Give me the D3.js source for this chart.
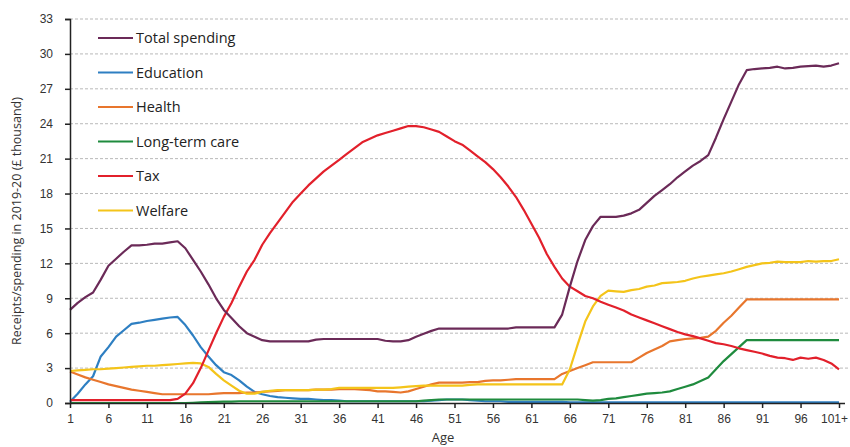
<!DOCTYPE html>
<html>
<head>
<meta charset="utf-8">
<script src="https://cdn.jsdelivr.net/npm/d3@7"></script>
<style>
  body { margin: 0; background: #fff; }
  svg { display: block; font-family: "Open Sans", sans-serif; }
  .grid line { stroke: #b9b9b9; stroke-dasharray: 3,2; }
  .axis path, .axis line { stroke: #222; }
  .axis text { fill: #333; font-size: 12px; }
</style>
</head>
<body>
<svg width="850" height="447"></svg>
<script>
// Ages 1..101 (101 = "101+")
const ages = d3.range(1, 102);
const xTicks = [1, 6, 11, 16, 21, 26, 31, 36, 41, 46, 51, 56, 61, 66, 71, 76, 81, 86, 91, 96, 101];
const yTicks = [0, 3, 6, 9, 12, 15, 18, 21, 24, 27, 30, 33];

const totalSpending = [
  8.0, 8.6, 9.1, 9.5, 10.6, 11.8, 12.4, 13.0, 13.55, 13.55,
  13.6, 13.7, 13.7, 13.8, 13.9, 13.3, 12.3, 11.3, 10.2, 9.0,
  8.0, 7.3, 6.6, 6.0, 5.7, 5.4, 5.3, 5.3, 5.3, 5.3,
  5.3, 5.3, 5.45, 5.5, 5.5, 5.5, 5.5, 5.5, 5.5, 5.5,
  5.5, 5.35, 5.3, 5.3, 5.4, 5.7, 5.95, 6.2, 6.4, 6.4,
  6.4, 6.4, 6.4, 6.4, 6.4, 6.4, 6.4, 6.4, 6.5, 6.5,
  6.5, 6.5, 6.5, 6.5, 7.6, 10.0, 12.2, 14.0, 15.2, 16.0,
  16.0, 16.0, 16.1, 16.3, 16.6, 17.2, 17.8, 18.3, 18.8, 19.4,
  19.9, 20.4, 20.8, 21.3, 22.8, 24.4, 25.9, 27.4, 28.6, 28.7,
  28.75, 28.8, 28.9, 28.75, 28.8, 28.9, 28.95, 29.0, 28.9, 29.0,
  29.2
];

const education = [
  0.1, 0.8, 1.6, 2.3, 4.0, 4.8, 5.7, 6.25, 6.8, 6.9,
  7.05, 7.15, 7.25, 7.35, 7.4, 6.7, 5.8, 4.8, 4.0, 3.25,
  2.65, 2.4, 1.95, 1.4, 0.95, 0.75, 0.6, 0.5, 0.45, 0.4,
  0.35, 0.35, 0.3, 0.25, 0.25, 0.2, 0.15, 0.15, 0.15, 0.15,
  0.15, 0.15, 0.15, 0.15, 0.15, 0.15, 0.15, 0.2, 0.25, 0.3,
  0.3, 0.3, 0.25, 0.2, 0.15, 0.15, 0.15, 0.1, 0.1, 0.1,
  0.1, 0.1, 0.1, 0.1, 0.1, 0.05, 0.05, 0.05, 0.05, 0.05,
  0.05, 0.05, 0.05, 0.05, 0.05, 0.05, 0.05, 0.05, 0.05, 0.05,
  0.05, 0.05, 0.05, 0.05, 0.05, 0.05, 0.05, 0.05, 0.05, 0.05,
  0.05, 0.05, 0.05, 0.05, 0.05, 0.05, 0.05, 0.05, 0.05, 0.05,
  0.05
];

const health = [
  2.7, 2.45, 2.2, 2.0, 1.8, 1.6, 1.45, 1.3, 1.15, 1.05,
  0.95, 0.85, 0.75, 0.75, 0.75, 0.75, 0.75, 0.75, 0.75, 0.8,
  0.85, 0.85, 0.85, 0.9, 0.9, 0.95, 1.0, 1.05, 1.1, 1.1,
  1.1, 1.1, 1.15, 1.15, 1.15, 1.2, 1.2, 1.2, 1.15, 1.1,
  1.0, 1.0, 0.95, 0.9, 1.0, 1.2, 1.4, 1.6, 1.75, 1.75,
  1.75, 1.75, 1.8, 1.8, 1.9, 1.95, 1.95, 2.0, 2.05, 2.05,
  2.05, 2.05, 2.05, 2.05, 2.5, 2.75, 3.0, 3.25, 3.5, 3.5,
  3.5, 3.5, 3.5, 3.5, 3.9, 4.3, 4.6, 4.9, 5.3, 5.4,
  5.5, 5.55, 5.6, 5.7, 6.2, 6.9, 7.5, 8.2, 8.9, 8.9,
  8.9, 8.9, 8.9, 8.9, 8.9, 8.9, 8.9, 8.9, 8.9, 8.9,
  8.9
];

const longTermCare = [
  0.0, 0.0, 0.0, 0.0, 0.0, 0.0, 0.0, 0.0, 0.0, 0.0,
  0.0, 0.0, 0.0, 0.0, 0.0, 0.0, 0.02, 0.05, 0.08, 0.1,
  0.12, 0.12, 0.15, 0.15, 0.15, 0.15, 0.15, 0.15, 0.15, 0.15,
  0.15, 0.15, 0.15, 0.15, 0.15, 0.15, 0.15, 0.15, 0.15, 0.15,
  0.15, 0.15, 0.15, 0.15, 0.15, 0.15, 0.2, 0.25, 0.3, 0.3,
  0.3, 0.3, 0.3, 0.3, 0.3, 0.3, 0.3, 0.3, 0.3, 0.3,
  0.3, 0.3, 0.3, 0.3, 0.3, 0.3, 0.3, 0.25, 0.2, 0.25,
  0.35, 0.4, 0.5, 0.6, 0.7, 0.8, 0.85, 0.9, 1.0, 1.2,
  1.4, 1.6, 1.9, 2.2, 2.9, 3.6, 4.2, 4.8, 5.4, 5.4,
  5.4, 5.4, 5.4, 5.4, 5.4, 5.4, 5.4, 5.4, 5.4, 5.4,
  5.4
];

const tax = [
  0.25, 0.25, 0.25, 0.25, 0.25, 0.25, 0.25, 0.25, 0.25, 0.25,
  0.25, 0.25, 0.25, 0.25, 0.35, 0.8, 1.7, 3.0, 4.5, 6.0,
  7.4, 8.6, 10.0, 11.3, 12.3, 13.6, 14.6, 15.5, 16.4, 17.3,
  18.0, 18.7, 19.3, 19.9, 20.4, 20.9, 21.4, 21.9, 22.4, 22.7,
  23.0, 23.2, 23.4, 23.6, 23.8, 23.8, 23.7, 23.5, 23.3, 22.9,
  22.5, 22.2, 21.7, 21.2, 20.7, 20.1, 19.4, 18.6, 17.7, 16.6,
  15.4, 14.2, 12.8, 11.7, 10.7, 10.0, 9.6, 9.2, 9.0, 8.7,
  8.45, 8.2, 7.95, 7.6, 7.35, 7.1, 6.85, 6.6, 6.35, 6.1,
  5.9, 5.75, 5.55, 5.35, 5.15, 5.05, 4.9, 4.7, 4.55, 4.4,
  4.25, 4.05, 3.9, 3.85, 3.7, 3.9, 3.8, 3.9, 3.7, 3.4,
  2.9
];

const welfare = [
  2.75, 2.8, 2.85, 2.9, 2.9, 2.95, 3.0, 3.05, 3.1, 3.15,
  3.2, 3.2, 3.25, 3.3, 3.35, 3.4, 3.45, 3.4, 3.1, 2.5,
  1.95, 1.5, 1.05, 0.8, 0.8, 0.95, 1.05, 1.1, 1.1, 1.1,
  1.1, 1.1, 1.15, 1.15, 1.2, 1.3, 1.3, 1.3, 1.3, 1.3,
  1.3, 1.3, 1.3, 1.35, 1.4, 1.45, 1.5, 1.5, 1.5, 1.5,
  1.5, 1.5, 1.55, 1.6, 1.6, 1.6, 1.6, 1.6, 1.6, 1.6,
  1.6, 1.6, 1.6, 1.6, 1.6, 2.9, 5.0, 7.0, 8.3, 9.2,
  9.65, 9.6, 9.55, 9.7, 9.8, 10.0, 10.1, 10.3, 10.35, 10.4,
  10.5, 10.7, 10.85, 10.95, 11.05, 11.15, 11.3, 11.5, 11.7, 11.85,
  12.0, 12.05, 12.15, 12.1, 12.1, 12.1, 12.2, 12.15, 12.2, 12.2,
  12.35
];

const seriesNames = ["Total spending", "Education", "Health", "Long-term care", "Tax", "Welfare"];
const seriesColors = ["#6b2a58", "#2e7fc2", "#e8762d", "#1f8b3e", "#e2202b", "#f4c41a"];
const seriesValues = [totalSpending, education, health, longTermCare, tax, welfare];

const width = 850, height = 447;
const margin = {top: 19, right: 11, bottom: 44, left: 70};

const svg = d3.select("svg");

const x = d3.scaleLinear().domain([1, 101]).range([margin.left, width - margin.right]);
const y = d3.scaleLinear().domain([0, 33]).range([height - margin.bottom, margin.top]);

// gridlines
svg.append("g")
    .attr("class", "grid")
    .selectAll("line")
    .data(yTicks.filter(d => d > 0))
    .join("line")
    .attr("x1", margin.left)
    .attr("x2", width - 2)
    .attr("y1", d => y(d))
    .attr("y2", d => y(d));

// lines, total spending drawn last so it sits on top
const line = d3.line().x((d, i) => x(ages[i])).y(d => y(d));
const drawOrder = [1, 2, 3, 5, 4, 0];
svg.append("g")
    .selectAll("path")
    .data(drawOrder)
    .join("path")
    .attr("fill", "none")
    .attr("stroke", i => seriesColors[i])
    .attr("stroke-width", 2.2)
    .attr("stroke-linejoin", "round")
    .attr("d", i => line(seriesValues[i]));

// axes
svg.append("g")
    .attr("class", "axis")
    .attr("transform", `translate(0,${height - margin.bottom})`)
    .call(d3.axisBottom(x).tickValues(xTicks).tickSize(5).tickPadding(6)
        .tickFormat(d => d === 101 ? "101+" : d))
    .call(g => g.select(".domain").attr("d", `M${margin.left},0.5H${width - 5}`))
    .call(g => g.selectAll(".tick text").filter(d => d === 101).attr("dx", "-5"));

svg.append("g")
    .attr("class", "axis")
    .attr("transform", `translate(${margin.left},0)`)
    .call(d3.axisLeft(y).tickValues(yTicks).tickSize(5).tickPadding(12));

svg.selectAll(".axis path, .axis line").attr("stroke-width", 1.5);

// axis titles
svg.append("text")
    .attr("transform", `translate(21,${(margin.top + height - margin.bottom) / 2 + 10}) rotate(-90)`)
    .attr("text-anchor", "middle")
    .attr("fill", "#333")
    .style("font-size", "12.5px")
    .text("Receipts/spending in 2019-20 (£ thousand)");

svg.append("text")
    .attr("x", 443)
    .attr("y", 442)
    .attr("text-anchor", "middle")
    .attr("fill", "#333")
    .style("font-size", "13px")
    .text("Age");

// legend
const legend = svg.append("g")
    .selectAll("g")
    .data(seriesNames)
    .join("g")
    .attr("transform", (d, i) => `translate(98,${38 + i * 34.5})`);

legend.append("line")
    .attr("x1", 0).attr("x2", 35)
    .attr("stroke", (d, i) => seriesColors[i])
    .attr("stroke-width", 2.2);

legend.append("text")
    .attr("x", 38)
    .attr("dy", "0.35em")
    .attr("fill", "#222")
    .style("font-size", "14.5px")
    .text(d => d);
</script>
</body>
</html>
